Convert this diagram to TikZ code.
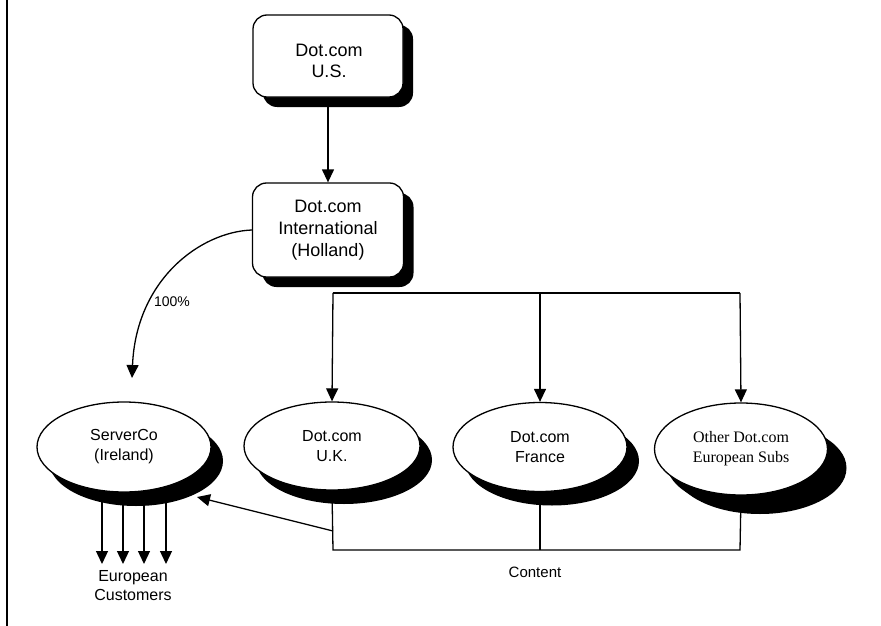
\documentclass[tikz,border=0pt]{standalone}
\usepackage{fontspec}
\setmainfont{Liberation Sans}
\newfontfamily\timesfont{Liberation Serif}
\usetikzlibrary{arrows.meta,shapes.geometric,shadows}
\begin{document}
\begin{tikzpicture}[x=1pt,y=-1pt,
  line width=1.3pt,
  arr/.style={-{Triangle[width=12pt,length=13pt]}},
  boxnode/.style={draw,fill=white,rounded corners=14pt,align=center,
    font=\fontsize{18}{22}\selectfont,inner sep=0pt,
    drop shadow={shadow xshift=10pt,shadow yshift=-10pt,fill=black,opacity=1}},
  ellnode/.style={draw,fill=white,ellipse,align=center,inner sep=0pt,
    font=\fontsize{16}{20}\selectfont,
    drop shadow={shadow xshift=12pt,shadow yshift=-14pt,fill=black,opacity=1}},
  lbl/.style={inner sep=0pt,align=center}
]
\useasboundingbox (0,0) rectangle (881,626);
\draw[line width=1.5pt] (7,0) -- (7,626);

\node[boxnode,minimum width=150pt,minimum height=82pt] (us) at (328,56) {};
\node[lbl,font=\fontsize{18}{21}\selectfont] (ustext) at (329,61) {Dot.com\\U.S.};
\node[boxnode,minimum width=151pt,minimum height=94pt] (intl) at (328,230) {Dot.com\\International\\(Holland)};

\node[ellnode,minimum width=174pt,minimum height=90pt] (sc) at (124,447) {ServerCo\\(Ireland)};
\node[ellnode,minimum width=176pt,minimum height=88pt] (uk) at (332,446) {Dot.com\\U.K.};
\node[ellnode,minimum width=174pt,minimum height=89pt] (fr) at (540,447) {Dot.com\\France};
\node[ellnode,minimum width=173pt,minimum height=92pt,
  drop shadow={shadow xshift=19pt,shadow yshift=-19pt,fill=black,opacity=1},
  font=\timesfont\fontsize{16}{20}\selectfont] (oth) at (741,449) {Other Dot.com\\European Subs};

% top
\draw[arr] (us.south) -- (intl.north);
\draw[arr] (intl.west) .. controls (200,232) and (136,280) .. (132,378) coordinate (scin);
\node[lbl,font=\fontsize{14}{16}\selectfont] (pct) at (172,302) {100\%};

\coordinate (b1) at (333,293);
\coordinate (b2) at (540,293);
\coordinate (b3) at (740,293);
\draw (b1) -- (b3);
\draw[arr] (b1) -- (uk.north);
\draw[arr] (b2) -- (fr.north);
\draw[arr] (b3) -- (oth.north);

% bottom content bus
\coordinate (c1) at (333,550);
\coordinate (c2) at (540,550);
\coordinate (c3) at (740,550);
\draw (uk.south) -- (c1) -- (c3) -- (oth.south);
\draw (fr.south) -- (c2);
\node[lbl,font=\fontsize{15}{18}\selectfont] (content) at (535,572) {Content};

\coordinate (tap) at (333,531);
\coordinate (sctip) at (197,497);
\draw[arr] (tap) -- (sctip);

% customers
\foreach \i/\x in {1/102,2/123,3/144,4/166}{
  \coordinate (cs\i) at (\x,502);
  \coordinate (ce\i) at (\x,564);
  \draw[arr] (cs\i) -- (ce\i);
}
\node[lbl,font=\fontsize{16}{19}\selectfont] (cust) at (133,586) {European\\Customers};
\end{tikzpicture}
\end{document}
